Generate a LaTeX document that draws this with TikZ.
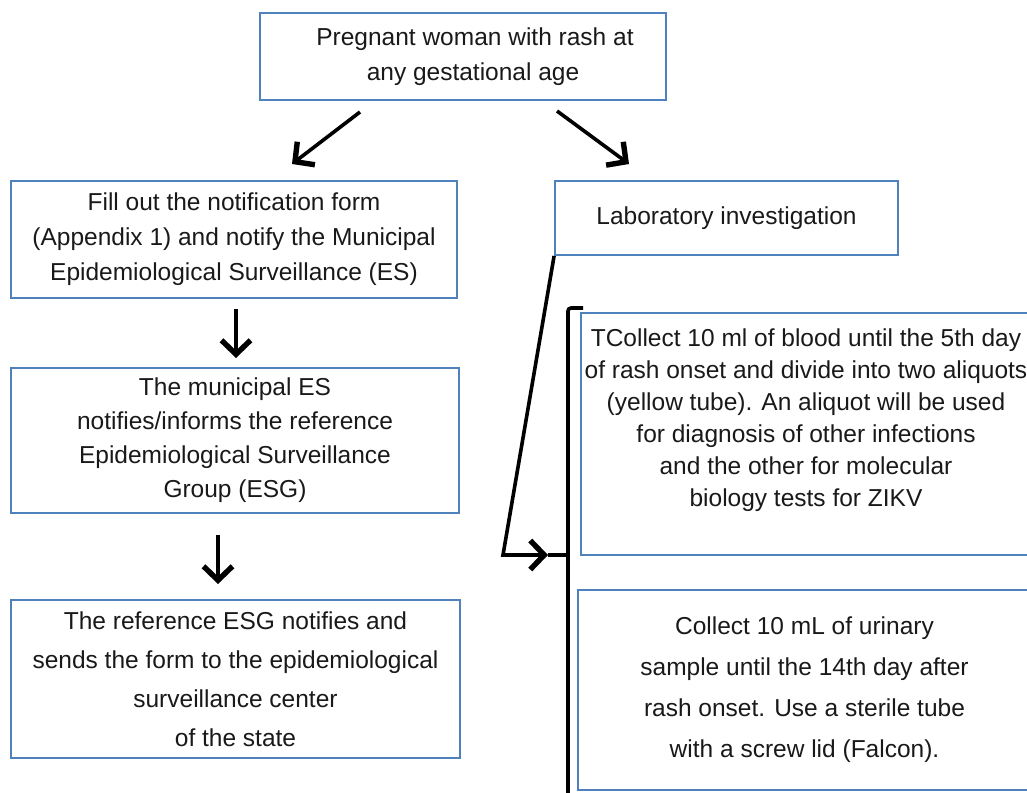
\documentclass[tikz,border=0pt]{standalone}
\usepackage{fontspec}
\setmainfont{Liberation Sans}
\usetikzlibrary{arrows.meta}
\definecolor{boxblue}{RGB}{79,129,189}
\definecolor{textgray}{RGB}{25,25,25}

\begin{document}
\begin{tikzpicture}[x=1pt,y=-1pt,
  block/.style={rectangle,draw=boxblue,line width=1.8pt,align=center,inner sep=0pt,text=textgray},
  arrow/.style={line width=3.6pt,-{Straight Barb[length=14pt,width=29pt,line width=0pt 1.5]}}]
\def\fsize{24.5}
\useasboundingbox (0,0) rectangle (1027,792);
  %\draw[help lines] (0,0) grid (1027,792);
\path
(463,56.5) node [block,minimum width=406,minimum height=87,font=\fontsize{\fsize}{35}\selectfont] (woman)
  {\hspace{24pt}Pregnant woman with rash at\\\hspace{20pt}any gestational age}
(234,239.5) node [block,minimum width=446,minimum height=117,font=\fontsize{\fsize}{35}\selectfont] (notify)
  {Fill out the notification form\\(Appendix 1) and notify the Municipal\\Epidemiological Surveillance (ES)}
(726.5,218) node [block,minimum width=343,minimum height=74,font=\fontsize{\fsize}{35}\selectfont] (lab)
  {Laboratory investigation}
(235,440.5) node [block,minimum width=448,minimum height=145,font=\fontsize{\fsize}{34}\selectfont] (muni)
  {The municipal ES\\notifies/informs the reference\\Epidemiological Surveillance\\Group (ESG)}
(235.5,679) node [block,minimum width=449,minimum height=158,font=\fontsize{\fsize}{39}\selectfont] (refesg)
  {The reference ESG notifies and\\sends the form to the epidemiological\\surveillance center\\of the state}
(806,434) node [block,minimum width=450,minimum height=242,font=\fontsize{\fsize}{32}\selectfont] (blood)
  {TCollect 10 ml of blood until the 5th day\\of rash onset and divide into two aliquots\\(yellow tube). An aliquot will be used\\for diagnosis of other infections\\and the other for molecular\\biology tests for ZIKV\\\mbox{}}
(804.5,690) node [block,minimum width=453,minimum height=200,font=\fontsize{\fsize}{41}\selectfont] (urine)
  {Collect 10 mL of urinary\\sample until the 14th day after\\rash onset. Use a sterile tube\\with a screw lid (Falcon).}
;
\coordinate (wl) at (360,112);
\coordinate (nl) at (292,164);
\coordinate (wr) at (557,111);
\coordinate (lr) at (629,164);
\coordinate (n1) at (236,309);
\coordinate (m1) at (236,358);
\coordinate (m2) at (218,535);
\coordinate (r2) at (218,584);
\coordinate (bend) at (503,555);
\coordinate (labin) at (548,555);
\coordinate (tick) at (568,555);
\coordinate (hook) at (583,308);
\coordinate (brtop) at (568,308);
\coordinate (brbot) at (568,800);
  \draw[arrow] (wl) -- (nl);
  \draw[arrow] (wr) -- (lr);
  \draw[arrow] (n1) -- (m1);
  \draw[arrow] (m2) -- (r2);
  \draw[arrow] (lab.south west) -- (bend) -- (labin);
  \draw[line width=3.6pt] (labin) -- (tick);
  \draw[line width=3.6pt,rounded corners=3pt] (hook) -- (brtop) -- (brbot);
\end{tikzpicture}
\end{document}
